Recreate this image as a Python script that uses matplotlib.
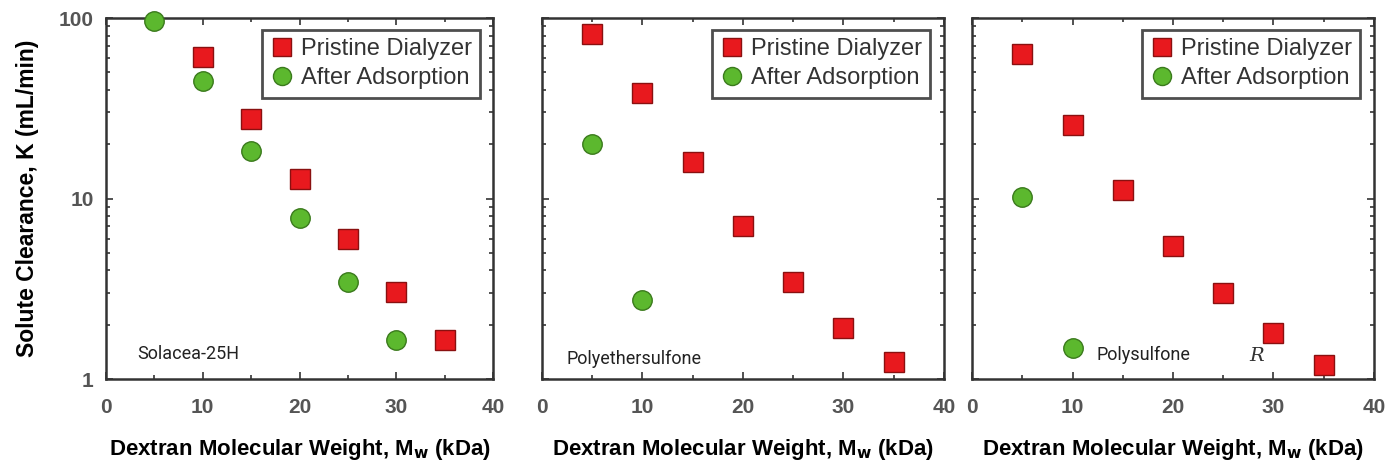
import matplotlib.pyplot as plt
from matplotlib.ticker import MultipleLocator, LogLocator, NullFormatter, FixedLocator

# Dextran molecular weight (kDa)
mw = [5, 10, 15, 20, 25, 30, 35]

# Solute clearance K (mL/min)
sol_pristine = [None, 60.5, 27.7, 12.8, 6.0, 3.03, 1.65]
sol_after = [96, 45, 18.4, 7.8, 3.46, 1.64, None]

pes_pristine = [82, 38.6, 15.9, 7.07, 3.46, 1.91, 1.25]
pes_after = [20, 2.74, None, None, None, None, None]

ps_pristine = [63, 25.5, 11.1, 5.45, 2.98, 1.79, 1.2]
ps_after = [10.2, 1.49, None, None, None, None, None]

panel_names = ["Solacea-25H", "Polyethersulfone", "Polysulfone"]

red = '#e8191e'
green = '#5cb82e'
tick_grey = '#555555'

plt.rcParams['font.family'] = ['Liberation Sans', 'DejaVu Sans']

fig = plt.figure(figsize=(13.99, 4.67), dpi=100)
positions = [
    [0.0758, 0.1884, 0.2766, 0.773],
    [0.3874, 0.1884, 0.2873, 0.773],
    [0.6948, 0.1884, 0.2873, 0.773],
]
series = [
    (sol_pristine, sol_after),
    (pes_pristine, pes_after),
    (ps_pristine, ps_after),
]
# label text placement (axes coords)
label_pos = [(0.08, 0.068), (0.06, 0.056), (0.31, 0.068)]

for i, (pos, (pris, after)) in enumerate(zip(positions, series)):
    ax = fig.add_axes(pos)
    px = [x for x, y in zip(mw, pris) if y is not None]
    py = [y for y in pris if y is not None]
    ax_ = [x for x, y in zip(mw, after) if y is not None]
    ay = [y for y in after if y is not None]

    ax.plot(px, py, linestyle='none', marker='s', markersize=14,
            markerfacecolor=red, markeredgecolor='#8a1010', markeredgewidth=1,
            label='Pristine Dialyzer', zorder=3, clip_on=False)
    ax.plot(ax_, ay, linestyle='none', marker='o', markersize=14,
            markerfacecolor=green, markeredgecolor='#3a7a1c', markeredgewidth=1,
            label='After Adsorption', zorder=3, clip_on=False)

    ax.set_yscale('log')
    ax.set_ylim(1, 100)
    ax.set_xlim(0, 40)
    ax.xaxis.set_major_locator(MultipleLocator(10))
    ax.xaxis.set_minor_locator(MultipleLocator(5))
    ax.yaxis.set_major_locator(FixedLocator([1, 10, 100]))
    ax.yaxis.set_minor_locator(LogLocator(base=10, subs=range(2, 10)))
    ax.yaxis.set_minor_formatter(NullFormatter())

    ax.tick_params(which='both', direction='in', top=True, right=True,
                   color='#333333', width=1.2)
    ax.tick_params(which='major', length=5)
    ax.tick_params(which='minor', length=3)
    ax.tick_params(axis='x', which='major', pad=14, labelsize=15,
                   labelcolor=tick_grey)
    ax.tick_params(axis='y', which='major', pad=9, labelsize=15,
                   labelcolor=tick_grey)
    for lab in ax.get_xticklabels() + ax.get_yticklabels():
        lab.set_fontweight('bold')
    if i == 0:
        ax.set_yticklabels(['1', '10', '100'])
        ax.set_ylabel('Solute Clearance, K (mL/min)', fontsize=16.5,
                      fontweight='bold', labelpad=14)
    else:
        ax.set_yticklabels([])

    for sp in ax.spines.values():
        sp.set_linewidth(1.8)
        sp.set_color('#333333')

    ax.set_xlabel(r'Dextran Molecular Weight, M$_\mathbf{w}$ (kDa)',
                  fontsize=16, fontweight='bold', labelpad=14)

    leg = ax.legend(loc='upper right', bbox_to_anchor=(0.966, 0.967),
                    fontsize=17, frameon=True, fancybox=False,
                    handletextpad=0.3, handlelength=1.0, borderpad=0.35,
                    labelspacing=0.3, borderaxespad=0)
    leg.get_frame().set_edgecolor('#222222')
    leg.get_frame().set_linewidth(2)
    for text in leg.get_texts():
        text.set_color('#333333')
    for h in leg.legend_handles:
        h.set_markersize(13)

    lx, ly = label_pos[i]
    ax.text(lx, ly, panel_names[i], transform=ax.transAxes, fontsize=13,
            family=['Roboto', 'DejaVu Sans'], color='#222222',
            va='center', ha='left',
            bbox=dict(facecolor='white', edgecolor='none', pad=2))
    if i == 2:
        ax.text(0.69, 0.065, 'R', transform=ax.transAxes, fontsize=14,
                style='italic', family=['DejaVu Serif'], color='#333333',
                va='center', ha='left')

fig.savefig('out.png', dpi=100)
